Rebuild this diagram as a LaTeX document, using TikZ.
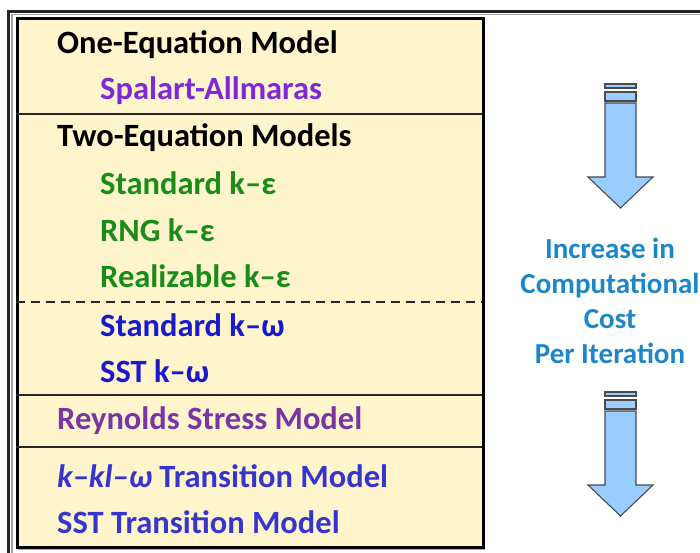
\documentclass[tikz,border=0pt]{standalone}
\usepackage{fontspec}
\setmainfont{Carlito}
\definecolor{cream}{HTML}{FFF5CC}
\definecolor{saviolet}{HTML}{7F28D8}
\definecolor{kegreen}{HTML}{1A8C1A}
\definecolor{kwblue}{HTML}{1A1ACC}
\definecolor{rsmpurple}{HTML}{7A35A5}
\definecolor{transblue}{HTML}{3535D0}
\definecolor{costblue}{HTML}{1B87C9}
\definecolor{arrowfill}{HTML}{99CCFF}
\definecolor{arrowline}{HTML}{4A4A4A}
\begin{document}
\begin{tikzpicture}[x=1pt,y=-1pt,
  modeltext/.style={anchor=base west,inner sep=0pt,font=\bfseries\fontsize{32.5}{38}\selectfont},
  groupname/.style={modeltext,text=black},
  divider/.style={line width=2pt,black!85},
  costtext/.style={align=center,inner sep=0pt,text=costblue,font=\bfseries\fontsize{29}{35}\selectfont},
  arrowpart/.style={fill=arrowfill,draw=arrowline,line width=1.1pt,line join=miter},
  costarrow/.pic={
    \path[arrowpart] (605,84) rectangle (636,88);
    \path[arrowpart] (605,92) rectangle (636,101);
    \path[arrowpart] (605,103) -- (636,103) -- (636,177) -- (653,177)
      -- (620.5,208) -- (588,177) -- (605,177) -- cycle;
  }]
\useasboundingbox (0,0) rectangle (700,553);

% frame around the table
\draw[line width=3.5pt,black!85] (8.5,553) -- (8.5,11.5) -- (700,11.5);
\draw[line width=1.2pt,black!35] (12,553) -- (12,14.5) -- (700,14.5);

% the table of turbulence models
\draw[line width=1.5pt,black!30] (484,20) -- (484,549) -- (18,549);
\node[draw,line width=3pt,fill=cream,anchor=north west,inner sep=0pt,
      minimum width=466,minimum height=529] (box) at (15.5,17) {};

\draw[divider] (15.5,114) -- (481.5,114);
\draw[divider,line width=2.3pt,dash pattern=on 9pt off 6pt] (15.5,302) -- (481.5,302);
\draw[divider] (15.5,395) -- (481.5,395);
\draw[divider] (15.5,447) -- (481.5,447);

\node[groupname] (one) at (57,54) {One-Equation Model};
\node[modeltext,text=saviolet] (sa) at (100,100) {Spalart-Allmaras};
\node[groupname] (two) at (57,147) {Two-Equation Models};
\node[modeltext,text=kegreen] (ske) at (100,195) {Standard k–ε};
\node[modeltext,text=kegreen] (rng) at (100,241) {RNG k–ε};
\node[modeltext,text=kegreen] (rke) at (100,287) {Realizable k–ε};
\node[modeltext,text=kwblue] (skw) at (100,336) {Standard k–ω};
\node[modeltext,text=kwblue] (sst) at (100,382) {SST k–ω};
\node[modeltext,text=rsmpurple] (rsm) at (57,429) {Reynolds Stress Model};
\node[modeltext,text=transblue] (kklw) at (57,487) {\textit{k–kl–ω} Transition Model};
\node[modeltext,text=transblue] (ssttr) at (57,533) {SST Transition Model};

% cost indicator
\pic {costarrow};
\pic at (0,308) {costarrow};
\node[costtext] (cost) at (610,301)
  {Increase in\\Computational\\Cost\hspace*{24pt}\\Per Iteration};
\end{tikzpicture}
\end{document}
